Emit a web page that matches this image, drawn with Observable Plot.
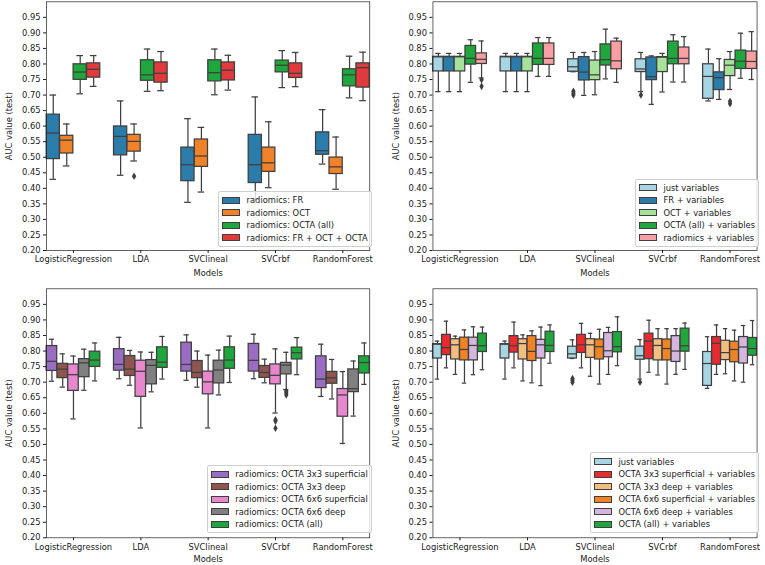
<!DOCTYPE html>
<html><head><meta charset="utf-8">
<script src="https://cdn.jsdelivr.net/npm/d3@7"></script>
<script src="https://cdn.jsdelivr.net/npm/@observablehq/plot@0.6"></script>
<style>
body{margin:0;background:#fff}
#fig{position:relative;width:765px;height:565px;overflow:hidden;font-family:"DejaVu Sans",sans-serif;background:#fff}
.panel{position:absolute}
.legend{position:absolute;background:rgba(255,255,255,0.8);border:1px solid #cfcfcf;border-radius:2px;padding:2px 3px 2px 3px;font-size:8.33px;color:#1a1a1a;font-family:"DejaVu Sans",sans-serif}
.row{display:flex;align-items:center;height:12.5px;white-space:nowrap}
.sw{width:16px;height:5px;border:1px solid #3f3f3f;margin-right:6.5px;flex:none}
</style></head><body><div id="fig"></div><script>
const models = ["LogisticRegression","LDA","SVClineal","SVCrbf","RandomForest"];
const yTicks = [0.20,0.25,0.30,0.35,0.40,0.45,0.50,0.55,0.60,0.65,0.70,0.75,0.80,0.85,0.90,0.95];
// each stat row: [lower whisker, Q1, median, Q3, upper whisker], one row per model

// ---- top-left panel ----
const tlSeries = ["radiomics: FR","radiomics: OCT","radiomics: OCTA (all)","radiomics: FR + OCT + OCTA"];
const tlColors = ["#2b7bab","#f0822a","#1fa63c","#e03a3c"];
const tlFR   = [[0.429,0.494,0.578,0.637,0.700],[0.442,0.506,0.567,0.599,0.681],[0.355,0.423,0.476,0.531,0.624],[0.365,0.417,0.476,0.572,0.694],[0.478,0.508,0.521,0.580,0.653]];
const tlOCT  = [[0.472,0.512,0.555,0.569,0.607],[0.488,0.518,0.551,0.572,0.607],[0.388,0.469,0.504,0.557,0.596],[0.402,0.453,0.482,0.531,0.614],[0.397,0.446,0.469,0.499,0.565]];
const tlOCTA = [[0.704,0.749,0.774,0.799,0.827],[0.712,0.746,0.765,0.812,0.848],[0.701,0.744,0.772,0.812,0.848],[0.724,0.773,0.796,0.811,0.843],[0.691,0.728,0.765,0.783,0.825]];
const tlAll  = [[0.728,0.756,0.783,0.802,0.827],[0.714,0.740,0.770,0.805,0.840],[0.716,0.747,0.780,0.805,0.828],[0.727,0.755,0.770,0.802,0.837],[0.682,0.724,0.788,0.802,0.838]];
const tlOutliers = [["radiomics: OCT","LDA",0.439]];

// ---- top-right panel ----
const trSeries = ["just variables","FR + variables","OCT + variables","OCTA (all) + variables","radiomics + variables"];
const trColors = ["#a8d5e2","#2b7bab","#a6e39a","#1fa63c","#f99ea2"];
const trJust = [[0.711,0.776,0.823,0.823,0.834],[0.711,0.776,0.823,0.823,0.834],[0.775,0.775,0.791,0.815,0.837],[0.711,0.774,0.784,0.815,0.837],[0.681,0.688,0.760,0.799,0.848]];
const trFR   = [[0.711,0.776,0.823,0.823,0.834],[0.711,0.776,0.823,0.823,0.834],[0.699,0.747,0.774,0.822,0.837],[0.670,0.748,0.759,0.821,0.826],[0.686,0.716,0.756,0.773,0.817]];
const trOCT  = [[0.711,0.776,0.823,0.823,0.834],[0.711,0.776,0.823,0.823,0.834],[0.701,0.748,0.765,0.811,0.840],[0.710,0.774,0.822,0.822,0.834],[0.718,0.761,0.796,0.813,0.840]];
const trOCTA = [[0.741,0.798,0.818,0.858,0.878],[0.760,0.797,0.818,0.866,0.885],[0.752,0.795,0.814,0.863,0.912],[0.742,0.799,0.818,0.872,0.894],[0.754,0.784,0.809,0.843,0.899]];
const trRad  = [[0.755,0.800,0.815,0.834,0.874],[0.760,0.797,0.818,0.866,0.885],[0.741,0.783,0.810,0.872,0.883],[0.742,0.799,0.818,0.853,0.888],[0.750,0.784,0.808,0.840,0.904]];
const trOutliers = [["radiomics + variables","LogisticRegression",0.749],["radiomics + variables","LogisticRegression",0.728],
  ["just variables","SVClineal",0.712],["just variables","SVClineal",0.706],["just variables","SVClineal",0.700],
  ["just variables","SVCrbf",0.700],["OCT + variables","RandomForest",0.680],["OCT + variables","RandomForest",0.672]];

// ---- bottom-left panel ----
const blSeries = ["radiomics: OCTA 3x3 superficial","radiomics: OCTA 3x3 deep","radiomics: OCTA 6x6 superficial","radiomics: OCTA 6x6 deep","radiomics: OCTA (all)"];
const blColors = ["#9a6cc2","#8f5650","#e887cd","#808080","#1fa63c"];
const bl33s = [[0.703,0.736,0.767,0.816,0.838],[0.711,0.737,0.757,0.806,0.844],[0.706,0.734,0.757,0.827,0.852],[0.711,0.734,0.770,0.823,0.854],[0.654,0.681,0.710,0.783,0.822]];
const bl33d = [[0.684,0.713,0.742,0.759,0.791],[0.690,0.720,0.742,0.784,0.802],[0.684,0.713,0.731,0.768,0.800],[0.698,0.714,0.731,0.752,0.774],[0.646,0.695,0.714,0.733,0.773]];
const bl66s = [[0.582,0.672,0.724,0.757,0.784],[0.553,0.653,0.735,0.769,0.797],[0.553,0.661,0.701,0.734,0.787],[0.601,0.693,0.722,0.757,0.807],[0.503,0.589,0.659,0.678,0.734]];
const bl66d = [[0.674,0.716,0.762,0.774,0.806],[0.669,0.693,0.754,0.771,0.796],[0.659,0.696,0.739,0.769,0.803],[0.676,0.725,0.755,0.762,0.796],[0.591,0.668,0.679,0.741,0.768]];
const blAll = [[0.704,0.749,0.771,0.798,0.826],[0.710,0.746,0.764,0.812,0.847],[0.699,0.743,0.771,0.812,0.848],[0.724,0.773,0.795,0.811,0.843],[0.693,0.728,0.763,0.783,0.826]];
const blOutliers = [["radiomics: OCTA 6x6 superficial","SVCrbf",0.579],["radiomics: OCTA 6x6 superficial","SVCrbf",0.575],["radiomics: OCTA 6x6 superficial","SVCrbf",0.552],
  ["radiomics: OCTA 6x6 deep","SVCrbf",0.671],["radiomics: OCTA 6x6 deep","SVCrbf",0.665],["radiomics: OCTA 6x6 deep","SVCrbf",0.659]];

// ---- bottom-right panel ----
const brSeries = ["just variables","OCTA 3x3 superficial + variables","OCTA 3x3 deep + variables","OCTA 6x6 superficial + variables","OCTA 6x6 deep + variables","OCTA (all) + variables"];
const brColors = ["#a8d5e2","#ea2a2e","#f2be82","#f08424","#d4b6df","#1fa63c"];
const brJust = [[0.710,0.776,0.822,0.822,0.832],[0.710,0.776,0.822,0.822,0.832],[0.776,0.776,0.791,0.814,0.836],[0.710,0.772,0.785,0.814,0.837],[0.680,0.688,0.760,0.797,0.846]];
const br33s  = [[0.746,0.787,0.811,0.852,0.896],[0.746,0.795,0.817,0.848,0.893],[0.746,0.794,0.820,0.852,0.889],[0.732,0.774,0.832,0.856,0.899],[0.725,0.756,0.825,0.845,0.884]];
const br33d  = [[0.725,0.773,0.820,0.838,0.848],[0.704,0.773,0.824,0.838,0.852],[0.719,0.778,0.820,0.838,0.857],[0.723,0.770,0.818,0.838,0.872],[0.727,0.771,0.795,0.833,0.872]];
const br66s  = [[0.697,0.770,0.805,0.843,0.868],[0.698,0.768,0.799,0.848,0.865],[0.694,0.773,0.814,0.837,0.870],[0.694,0.770,0.808,0.837,0.872],[0.704,0.764,0.805,0.830,0.867]];
const br66d  = [[0.724,0.770,0.818,0.843,0.878],[0.689,0.776,0.820,0.836,0.877],[0.725,0.780,0.801,0.858,0.876],[0.725,0.765,0.800,0.848,0.872],[0.700,0.760,0.813,0.845,0.882]];
const brAll  = [[0.740,0.797,0.817,0.856,0.877],[0.761,0.797,0.818,0.862,0.884],[0.753,0.796,0.814,0.861,0.910],[0.741,0.798,0.817,0.872,0.890],[0.756,0.785,0.808,0.842,0.898]];
const brOutliers = [["just variables","SVClineal",0.712],["just variables","SVClineal",0.706],["just variables","SVClineal",0.700],["just variables","SVCrbf",0.700]];

function rows(series, statsList) {
  const out = [];
  series.forEach((s, i) => statsList[i].forEach((st, j) => out.push({model: models[j], series: s, low: st[0], q1: st[1], med: st[2], q3: st[3], high: st[4]})));
  return out;
}
function outRows(list) { return list.map(([series, model, value]) => ({series, model, value})); }

const INK = "#3f3f3f";
const fig = document.getElementById("fig");

function panel(cfg) {
  const {svgLeft, svgTop, svgW, svgH, ax, series, colors, stats, outliers, legend, xLabelOffset} = cfg;
  const data = rows(series, stats);
  const outs = outRows(outliers);
  const axW = ax.right - ax.left;
  const bw = axW / 5 * 0.8 / series.length * 0.98;
  const capInset = bw / 4;
  const common = {fx: "model", x: "series"};
  const chart = Plot.plot({
    width: svgW, height: svgH,
    marginLeft: ax.left - svgLeft, marginRight: svgLeft + svgW - ax.right,
    marginTop: ax.top - svgTop, marginBottom: svgTop + svgH - ax.bottom,
    style: {fontFamily: "DejaVu Sans, sans-serif", fontSize: "8.33px", color: "#1a1a1a", background: "transparent"},
    fx: {domain: models, paddingInner: 0.2, paddingOuter: 0.1, round: false},
    x: {domain: series, paddingInner: 0.02, paddingOuter: 0.01, round: false, axis: null},
    y: {domain: [0.2, 1.0]},
    color: {domain: series, range: colors},
    marks: [
      Plot.ruleX(data, {...common, y1: "low", y2: "q1", stroke: INK, strokeWidth: 1.25}),
      Plot.ruleX(data, {...common, y1: "q3", y2: "high", stroke: INK, strokeWidth: 1.25}),
      Plot.tickY(data, {...common, y: "low", stroke: INK, strokeWidth: 1.25, insetLeft: capInset, insetRight: capInset}),
      Plot.tickY(data, {...common, y: "high", stroke: INK, strokeWidth: 1.25, insetLeft: capInset, insetRight: capInset}),
      Plot.barY(data, {...common, y1: "q1", y2: "q3", fill: "series", stroke: INK, strokeWidth: 1.25}),
      Plot.tickY(data, {...common, y: "med", stroke: INK, strokeWidth: 1.25}),
      Plot.dot(outs, {...common, y: "value", symbol: "diamond", r: 2.3, fill: INK, stroke: "none"}),
      Plot.axisY({ticks: yTicks, tickFormat: d => d.toFixed(2), tickSize: 3, tickPadding: 3,
        label: "AUC value (test)", labelAnchor: "center", labelArrow: "none", labelOffset: 40}),
      Plot.axisFx({anchor: "bottom", tickSize: 3, tickPadding: 3,
        label: "Models", labelAnchor: "center", labelArrow: "none", labelOffset: xLabelOffset}),
      Plot.frame({facet: "super", stroke: "#222", strokeWidth: 0.7})
    ]
  });
  chart.classList.add("panel");
  chart.style.left = svgLeft + "px";
  chart.style.top = svgTop + "px";
  fig.appendChild(chart);

  const lg = document.createElement("div");
  lg.className = "legend";
  lg.style.right = (765 - legend.right) + "px";
  lg.style.bottom = (565 - legend.bottom) + "px";
  series.forEach((s, i) => {
    const r = document.createElement("div");
    r.className = "row";
    const sw = document.createElement("span");
    sw.className = "sw";
    sw.style.background = colors[i];
    const t = document.createElement("span");
    t.textContent = s;
    r.appendChild(sw); r.appendChild(t);
    lg.appendChild(r);
  });
  fig.appendChild(lg);
}

panel({svgLeft: 0, svgTop: 0, svgW: 381, svgH: 282, ax: {left: 39.3, right: 376, top: 1.3, bottom: 250}, xLabelOffset: 25.5,
  series: tlSeries, colors: tlColors, stats: [tlFR, tlOCT, tlOCTA, tlAll], outliers: tlOutliers, legend: {right: 371.7, bottom: 247}});
panel({svgLeft: 383, svgTop: 0, svgW: 382, svgH: 282, ax: {left: 425.7, right: 763.3, top: 1.3, bottom: 250}, xLabelOffset: 25.5,
  series: trSeries, colors: trColors, stats: [trJust, trFR, trOCT, trOCTA, trRad], outliers: trOutliers, legend: {right: 759, bottom: 247}});
panel({svgLeft: 0, svgTop: 282, svgW: 381, svgH: 283, ax: {left: 39.3, right: 376, top: 288.3, bottom: 537.3}, xLabelOffset: 24.5,
  series: blSeries, colors: blColors, stats: [bl33s, bl33d, bl66s, bl66d, blAll], outliers: blOutliers, legend: {right: 371.7, bottom: 533.3}});
panel({svgLeft: 383, svgTop: 282, svgW: 382, svgH: 283, ax: {left: 425.7, right: 763.3, top: 288.3, bottom: 537.3}, xLabelOffset: 24.5,
  series: brSeries, colors: brColors, stats: [brJust, br33s, br33d, br66s, br66d, brAll], outliers: brOutliers, legend: {right: 759, bottom: 533.3}});
</script></body></html>
